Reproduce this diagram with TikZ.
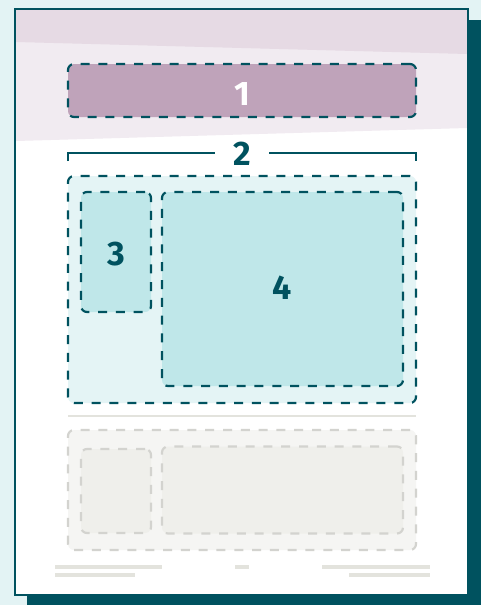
\documentclass[tikz,border=0pt]{standalone}
\usepackage{fontspec}
\setmainfont{Fira Sans}
\definecolor{bgc}{HTML}{E3F3F4}
\definecolor{teal}{HTML}{00525F}
\definecolor{bandA}{HTML}{E6DAE4}
\definecolor{bandB}{HTML}{F1EBF1}
\definecolor{mauve}{HTML}{BFA3BA}
\definecolor{cyanA}{HTML}{E4F4F5}
\definecolor{cyanB}{HTML}{BFE7E9}
\definecolor{grayA}{HTML}{F5F5F3}
\definecolor{grayB}{HTML}{EFEFEB}
\definecolor{grayD}{HTML}{D3D3CF}
\definecolor{grayL}{HTML}{E3E3DD}
\tikzset{
  zone/.style={draw=teal, line width=2.2pt, dash pattern=on 9pt off 8.8pt, rounded corners=6pt, inner sep=0pt, text=teal, text depth=0pt, font=\fontsize{34}{34}\selectfont\bfseries},
  ghost/.style={draw=grayD, line width=2.2pt, dash pattern=on 9pt off 8.8pt, rounded corners=6pt, inner sep=0pt},
  footline/.style={draw=grayL, line width=4pt},
  digit/.style={text depth=0pt, inner sep=0pt, font=\fontsize{34}{34}\selectfont\bfseries},
}
\begin{document}
\begin{tikzpicture}[x=1pt,y=-1pt]
\useasboundingbox (0,0) rectangle (481,605);
\fill[bgc] (0,0) rectangle (481,605);
% shadow
\fill[teal] (27,20) rectangle (481,605);
% page
\fill[white] (15,9) rectangle (468,595);
\fill[bandB] (16,10) -- (467,10) -- (467,128) -- (16,141) -- cycle;
\fill[bandA] (16,10) -- (467,10) -- (467,54) -- (16,42) -- cycle;
\draw[teal, line width=2pt] (15,9) rectangle (468,595);
% box 1
\node[zone, fill=mauve, minimum width=348pt, minimum height=53pt] (b1) at (242,90.5) {};
\node[digit, text=white] (l1) at (242,94) {1};
% bracket 2
\node[digit, text=teal] (l2) at (242,154) {2};
\coordinate (bl) at (68,161);
\coordinate (br) at (416,161);
\coordinate (bml) at (215,153);
\coordinate (bmr) at (269,153);
\draw[teal, line width=2pt] (bl) -- (bl |- bml) -- (bml);
\draw[teal, line width=2pt] (bmr) -- (br |- bmr) -- (br);
% box 2
\node[zone, fill=cyanA, minimum width=348pt, minimum height=227pt] (b2) at (242,289.5) {};
\node[zone, fill=cyanB, minimum width=70pt, minimum height=120pt] (b3) at (116,252) {};
\node[digit, text=teal] (l3) at (116,253.5) {3};
\node[zone, fill=cyanB, minimum width=241pt, minimum height=194pt] (b4) at (282.5,289) {};
\node[digit, text=teal] (l4) at (282,288) {4};
% separator
\coordinate (s1) at (68,416);
\coordinate (s2) at (416,416);
\draw[grayL, line width=2pt] (s1) -- (s2);
% ghost boxes
\node[ghost, fill=grayA, minimum width=348pt, minimum height=120pt] (g1) at (242,490) {};
\node[ghost, fill=grayB, minimum width=70pt, minimum height=84pt] (g2) at (116,491) {};
\node[ghost, fill=grayB, minimum width=241pt, minimum height=87pt] (g3) at (282.5,490) {};
% footer
\draw[footline] (55,567) -- (162,567);
\draw[footline] (55,575) -- (135,575);
\draw[footline] (235,567) -- (249,567);
\draw[footline] (322,567) -- (430,567);
\draw[footline] (349,575) -- (430,575);
\end{tikzpicture}
\end{document}
